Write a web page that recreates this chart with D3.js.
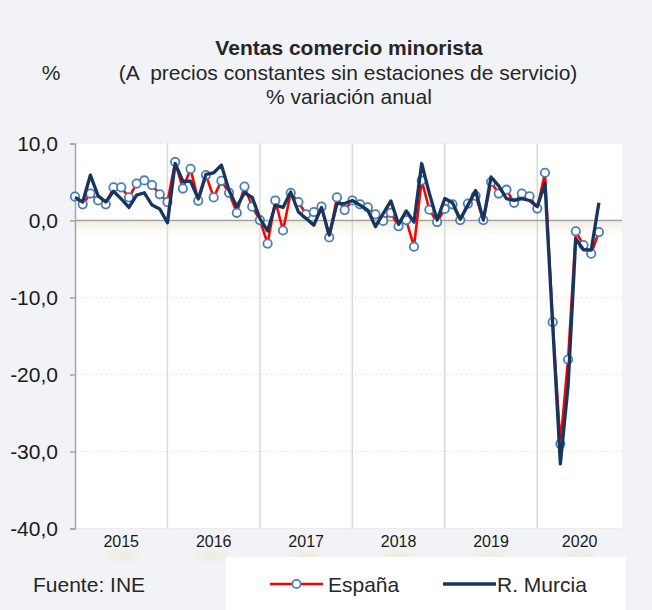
<!DOCTYPE html>
<html>
<head>
<meta charset="utf-8">
<script src="https://cdn.jsdelivr.net/npm/d3@7"></script>
<style>
  html, body { margin: 0; padding: 0; background: #f2f3f7; }
  svg { display: block; font-family: "Liberation Sans", Arial, sans-serif; }
</style>
</head>
<body>
<div id="chart"></div>
<script>
// data, monthly Jan 2015 .. Sep 2020
const years = ['2015', '2016', '2017', '2018', '2019', '2020'];
const espana = [
  3.1, 2.1, 3.5, 2.6, 2.1, 4.3, 4.3, 3.0, 4.8, 5.2, 4.6, 3.4,
  2.4, 7.6, 4.15, 6.7, 2.55, 5.9, 3.0, 5.15, 3.6, 1.0, 4.4, 1.8,
  0.05, -3.0, 2.6, -1.3, 3.6, 2.4, 0.8, 1.1, 1.8, -2.2, 3.0, 1.35,
  2.6, 2.1, 1.7, 0.8, -0.05, 1.0, -0.75, 0.05, -3.4, 5.2, 1.4, -0.2,
  1.5, 2.1, 0.05, 2.2, 3.2, 0.05, 5.0, 3.5, 4.0, 2.3, 3.5, 3.15,
  1.55, 6.2, -13.2, -29.0, -18.05, -1.4, -3.2, -4.3, -1.5
];
const murcia = [
  3.0, 2.4, 5.9, 3.2, 2.4, 3.8, 2.8, 1.7, 3.3, 3.6, 2.0, 1.5,
  -0.3, 7.4, 5.1, 5.1, 2.8, 6.0, 6.2, 7.2, 3.9, 1.8, 3.6, 3.0,
  0.25, -1.35, 2.0, 1.7, 3.7, 1.1, 0.25, -0.6, 1.7, -1.9, 2.2, 2.2,
  2.6, 2.0, 1.35, -0.8, 0.9, 2.55, -0.5, 1.25, -0.2, 7.4, 3.5, 0.05,
  2.85, 2.3, 0.15, 2.0, 3.9, 0.05, 5.65, 4.5, 2.85, 2.6, 2.85, 2.6,
  1.8, 4.8, -13.5, -31.6, -21.5, -2.35, -3.8, -3.85, 2.3
];
const yTicks = [10, 0, -10, -20, -30, -40];
const seriesNames = ['España', 'R. Murcia'];

const width = 652, height = 610;
const plotLeft = 75, plotRight = 622, plotTop = 143.5, plotBottom = 528.5;
const nMonths = years.length * 12;

const x = d3.scaleLinear().domain([0, nMonths - 1]).range([plotLeft, plotRight]);
const y = d3.scaleLinear().domain([-40, 10]).range([plotBottom, plotTop]);

const es = d3.formatLocale({decimal: ',', thousands: '.', grouping: [3], currency: ['', '€'], minus: '-'});
const fmt = es.format('.1f');

const svg = d3.select('#chart').append('svg')
  .attr('width', width)
  .attr('height', height);

const defs = svg.append('defs');
const glow = defs.append('linearGradient')
  .attr('id', 'zeroGlow').attr('x1', 0).attr('x2', 0).attr('y1', 0).attr('y2', 1);
glow.append('stop').attr('offset', '0%').attr('stop-color', '#f3eedf').attr('stop-opacity', 0.9);
glow.append('stop').attr('offset', '100%').attr('stop-color', '#f3eedf').attr('stop-opacity', 0);
defs.append('filter').attr('id', 'blur')
  .append('feGaussianBlur').attr('stdDeviation', 4);

svg.append('rect')
  .attr('width', width).attr('height', height)
  .attr('fill', '#f2f3f7');

// plot area
svg.append('rect')
  .attr('x', plotLeft).attr('y', plotTop)
  .attr('width', plotRight - plotLeft).attr('height', plotBottom - plotTop)
  .attr('fill', '#ffffff');

// soft shadow under the zero line
svg.append('rect')
  .attr('x', plotLeft + 1).attr('y', y(0) + 1)
  .attr('width', plotRight - plotLeft - 1).attr('height', 15)
  .attr('fill', 'url(#zeroGlow)');

// horizontal gridlines
svg.append('g').selectAll('line')
  .data(yTicks.filter(d => d !== 0))
  .join('line')
  .attr('x1', plotLeft).attr('x2', plotRight)
  .attr('y1', d => y(d)).attr('y2', d => y(d))
  .attr('stroke', '#ececec')
  .attr('stroke-width', 1)
  .attr('stroke-dasharray', d => d === -40 ? null : '3,2');

// year separators
svg.append('g').selectAll('line')
  .data(d3.range(1, years.length))
  .join('line')
  .attr('x1', d => x(d * 12)).attr('x2', d => x(d * 12))
  .attr('y1', plotTop).attr('y2', plotBottom)
  .attr('stroke', '#d9d9d9')
  .attr('stroke-width', 1.5);

// zero line
svg.append('line')
  .attr('x1', plotLeft).attr('x2', plotRight)
  .attr('y1', y(0)).attr('y2', y(0))
  .attr('stroke', '#a0a0a0')
  .attr('stroke-width', 1.6);

// y axis
const yAxis = svg.append('g')
  .attr('transform', 'translate(' + plotLeft + ',0)')
  .call(d3.axisLeft(y).tickValues(yTicks).tickSize(5).tickPadding(12).tickFormat(fmt));
yAxis.select('.domain').attr('stroke', '#a6a6a6').attr('stroke-width', 1.5);
yAxis.selectAll('.tick line').attr('stroke', '#a6a6a6').attr('stroke-width', 1.5);
yAxis.selectAll('.tick text')
  .attr('fill', '#1a1a1a')
  .attr('font-size', '21px')
  .attr('font-family', '"Liberation Sans", Arial, sans-serif');

// year labels, centred in each year's span
const yearCenter = function(i) {
  return (x(i * 12) + x(Math.min((i + 1) * 12, nMonths - 1))) / 2;
};
svg.append('g').selectAll('ellipse')
  .data(years)
  .join('ellipse')
  .attr('cx', (d, i) => yearCenter(i))
  .attr('cy', 556)
  .attr('rx', 16).attr('ry', 5)
  .attr('fill', '#efe9d3')
  .attr('opacity', 0.8)
  .attr('filter', 'url(#blur)');
svg.append('g').selectAll('text')
  .data(years)
  .join('text')
  .attr('x', (d, i) => yearCenter(i))
  .attr('y', 547)
  .attr('text-anchor', 'middle')
  .attr('font-size', '16px')
  .attr('fill', '#1a1a1a')
  .text(d => d);

// series
const line = d3.line()
  .x((d, i) => x(i))
  .y(d => y(d));

svg.append('path')
  .datum(espana)
  .attr('d', line)
  .attr('fill', 'none')
  .attr('stroke', '#ff0000')
  .attr('stroke-width', 2.6)
  .attr('stroke-linejoin', 'round');

svg.append('g').selectAll('circle')
  .data(espana)
  .join('circle')
  .attr('cx', (d, i) => x(i))
  .attr('cy', d => y(d))
  .attr('r', 4.2)
  .attr('fill', '#ffffff')
  .attr('stroke', '#4a7ebb')
  .attr('stroke-width', 1.8);

svg.append('path')
  .datum(murcia)
  .attr('d', line)
  .attr('fill', 'none')
  .attr('stroke', '#17365d')
  .attr('stroke-width', 3.3)
  .attr('stroke-linejoin', 'round');

// titles
svg.append('text')
  .attr('x', 349).attr('y', 55)
  .attr('text-anchor', 'middle')
  .attr('font-size', '21px')
  .attr('font-weight', 'bold')
  .attr('fill', '#262626')
  .text('Ventas comercio minorista');
svg.append('text')
  .attr('x', 348).attr('y', 80)
  .attr('text-anchor', 'middle')
  .attr('font-size', '21px')
  .attr('fill', '#262626')
  .style('white-space', 'pre')
  .text('(A  precios constantes sin estaciones de servicio)');
svg.append('text')
  .attr('x', 349).attr('y', 104)
  .attr('text-anchor', 'middle')
  .attr('font-size', '21px')
  .attr('fill', '#262626')
  .text('% variación anual');
svg.append('text')
  .attr('x', 51).attr('y', 80)
  .attr('text-anchor', 'middle')
  .attr('font-size', '21px')
  .attr('fill', '#262626')
  .text('%');

// source
svg.append('text')
  .attr('x', 33).attr('y', 592)
  .attr('font-size', '21px')
  .attr('fill', '#262626')
  .text('Fuente: INE');

// legend
const legend = svg.append('g');
legend.append('rect')
  .attr('x', 226).attr('y', 557)
  .attr('width', 400).attr('height', 53)
  .attr('fill', '#ffffff');

const legendX = [270, 443];
const legendColors = ['#ff0000', '#17365d'];
const item = legend.selectAll('.item')
  .data(seriesNames)
  .join('g')
  .attr('class', 'item')
  .attr('transform', (d, i) => 'translate(' + legendX[i] + ',584)');
item.append('line')
  .attr('x1', 0).attr('x2', 53)
  .attr('stroke', (d, i) => legendColors[i])
  .attr('stroke-width', (d, i) => i === 0 ? 2.6 : 3.3);
item.filter((d, i) => i === 0).append('circle')
  .attr('cx', 26.5).attr('r', 4.2)
  .attr('fill', '#ffffff')
  .attr('stroke', '#4a7ebb')
  .attr('stroke-width', 1.8);
item.append('text')
  .attr('x', (d, i) => i === 0 ? 58 : 54)
  .attr('y', 8)
  .attr('font-size', '21px')
  .attr('fill', '#262626')
  .text(d => d);
</script>
</body>
</html>
